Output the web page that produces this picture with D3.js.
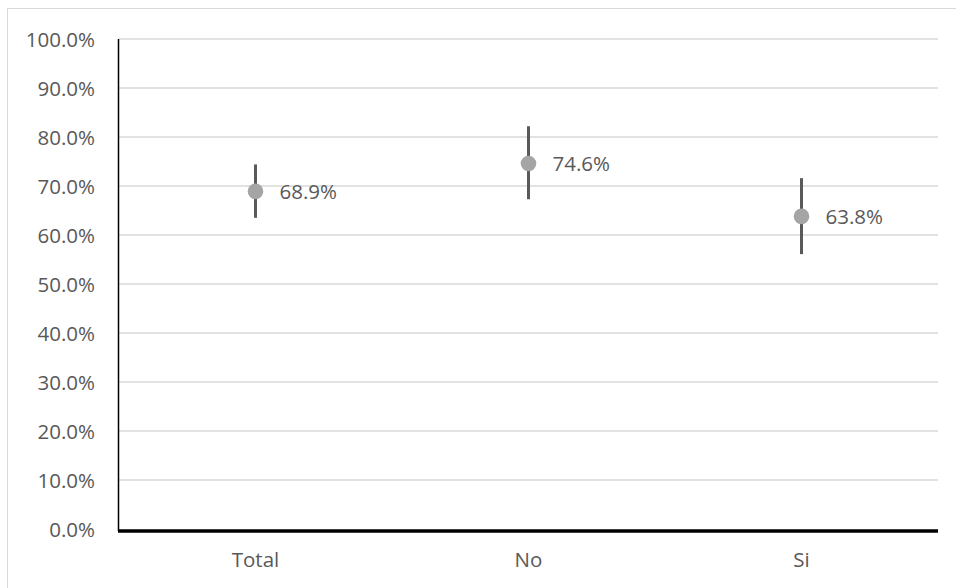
<!DOCTYPE html>
<html>
<head>
<meta charset="utf-8">
<script src="https://cdn.jsdelivr.net/npm/d3@7"></script>
<style>
  html, body { margin: 0; padding: 0; background: #fff; }
  svg { display: block; }
  text { font-family: "Open Sans", "Liberation Sans", sans-serif; fill: #595959; }
</style>
</head>
<body>
<svg id="chart" width="956" height="588"></svg>
<script>
// Group names along the x axis
const categories = ["Total", "No", "Si"];
// Point estimates (share, 0-1)
const values = [0.689, 0.746, 0.638];
// Confidence interval bounds
const lowerBounds = [0.635, 0.673, 0.561];
const upperBounds = [0.744, 0.822, 0.716];
// Y axis ticks
const yTicks = [0, 0.1, 0.2, 0.3, 0.4, 0.5, 0.6, 0.7, 0.8, 0.9, 1.0];

const svg = d3.select("#chart");
const W = 956, H = 588;
const margin = { left: 119, right: 18, top: 39, bottom: 59 };
const innerW = W - margin.left - margin.right;
const fontSize = 20.5;

// Outer chart frame
svg.append("rect")
  .attr("x", 7.5).attr("y", 8.5)
  .attr("width", W - 6).attr("height", H - 4)
  .attr("fill", "none").attr("stroke", "#d9d9d9").attr("stroke-width", 1);

const x = d3.scaleBand()
  .domain(categories)
  .range([margin.left, margin.left + innerW]);

const y = d3.scaleLinear()
  .domain([0, 1])
  .range([529, 39]);

const fmt = d3.format(".1%");

// Horizontal gridlines
svg.append("g")
  .selectAll("line")
  .data(yTicks.filter(d => d > 0))
  .join("line")
  .attr("x1", margin.left).attr("x2", margin.left + innerW)
  .attr("y1", d => y(d)).attr("y2", d => y(d))
  .attr("stroke", "#d9d9d9").attr("stroke-width", 1.3);

// Y axis with percentage labels
const yAxis = svg.append("g")
  .attr("transform", `translate(${margin.left},0)`)
  .call(d3.axisLeft(y).tickValues(yTicks).tickFormat(fmt).tickSize(0).tickPadding(24));
yAxis.select(".domain").remove();
yAxis.selectAll("text")
  .attr("font-size", fontSize)
  .attr("dy", "0.35em")
  .style("fill", "#595959")
  .style("font-family", "'Open Sans', sans-serif");

// Vertical axis line
svg.append("line")
  .attr("x1", margin.left - 0.5).attr("x2", margin.left - 0.5)
  .attr("y1", y(1)).attr("y2", 531)
  .attr("stroke", "#000").attr("stroke-width", 1.5);

// X axis with category labels
const xAxis = svg.append("g")
  .attr("transform", `translate(0,531)`)
  .call(d3.axisBottom(x).tickSize(0).tickPadding(21));
xAxis.select(".domain")
  .attr("stroke", "#000").attr("stroke-width", 3.5)
  .attr("d", `M${margin.left - 1},0H${margin.left + innerW}`);
xAxis.selectAll("text")
  .attr("font-size", fontSize)
  .style("fill", "#595959")
  .style("font-family", "'Open Sans', sans-serif");

const data = categories.map((c, i) => ({
  cat: c, v: values[i], lo: lowerBounds[i], hi: upperBounds[i]
}));

const cx = d => x(d.cat) + x.bandwidth() / 2;

// Error bars
svg.append("g")
  .selectAll("line")
  .data(data)
  .join("line")
  .attr("x1", cx).attr("x2", cx)
  .attr("y1", d => y(d.hi)).attr("y2", d => y(d.lo))
  .attr("stroke", "#595959").attr("stroke-width", 3);

// Point estimates
svg.append("g")
  .selectAll("circle")
  .data(data)
  .join("circle")
  .attr("cx", cx).attr("cy", d => y(d.v))
  .attr("r", 7.8)
  .attr("fill", "#a5a5a5");

// Value labels
svg.append("g")
  .selectAll("text")
  .data(data)
  .join("text")
  .attr("x", d => cx(d) + 24)
  .attr("y", d => y(d.v))
  .attr("dy", "0.35em")
  .attr("font-size", fontSize)
  .text(d => fmt(d.v));
</script>
</body>
</html>
